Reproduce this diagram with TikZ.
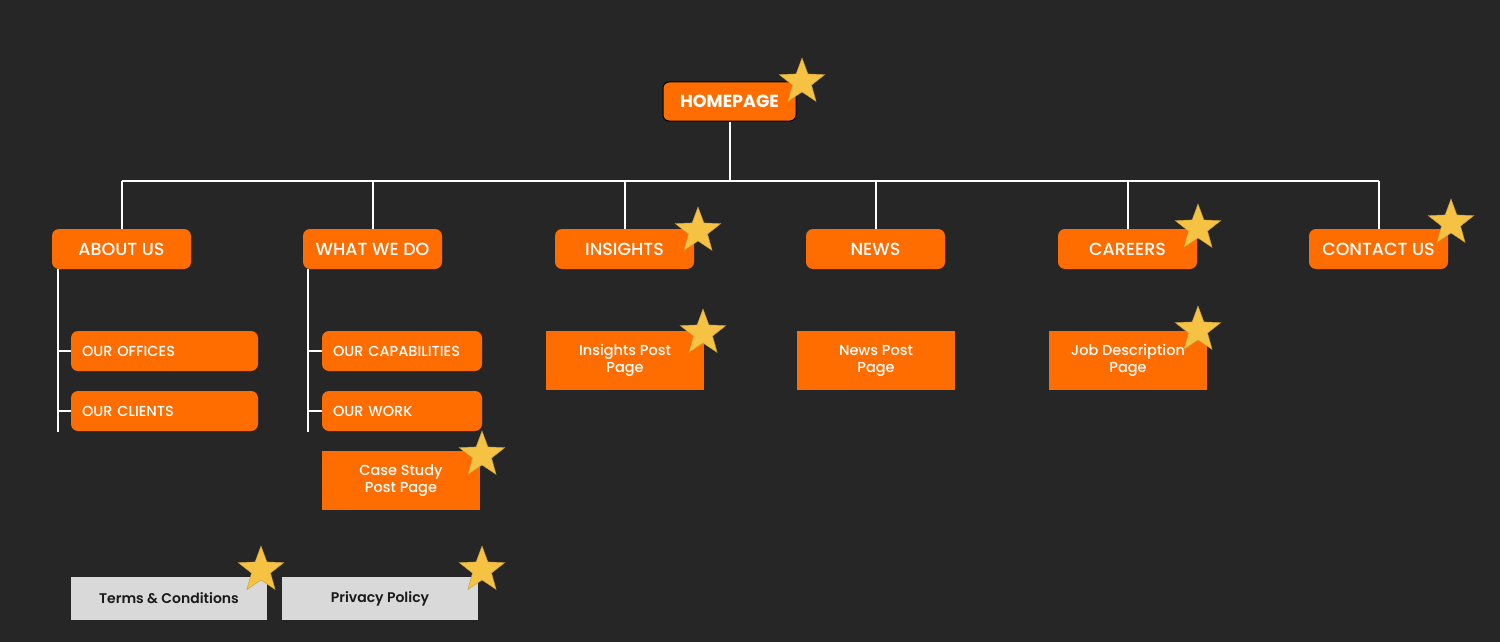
\documentclass[tikz,border=0pt]{standalone}
\usepackage{fontspec}
\setmainfont{Poppins}
\newfontfamily\medfont{Poppins Medium}
\newfontfamily\semifont{Poppins SemiBold}
\usetikzlibrary{shapes.geometric,positioning,calc}
\definecolor{bgcolor}{HTML}{262626}
\definecolor{pagecolor}{HTML}{FF6D00}
\definecolor{starcolor}{HTML}{F6C244}
\definecolor{legalcolor}{HTML}{D9D9D9}

\begin{document}
\begin{tikzpicture}[
    x=1pt, y=-1pt,
    homebox/.style={rectangle, rounded corners=6pt, draw=black, line width=1pt, fill=pagecolor, minimum width=133pt, minimum height=39pt, text=white, font=\fontsize{17.5}{20}\selectfont\bfseries},
    sectionbox/.style={rectangle, rounded corners=7pt, fill=pagecolor, minimum width=139pt, minimum height=40pt, text=white, font=\fontsize{17.5}{20}\selectfont\medfont},
    subbox/.style={rectangle, rounded corners=7pt, fill=pagecolor, minimum height=40pt, inner xsep=11pt, align=left, text=white, font=\fontsize{14.5}{17}\selectfont\medfont},
    postbox/.style={rectangle, fill=pagecolor, minimum width=158pt, minimum height=59pt, align=center, text=white, font=\fontsize{14.5}{17}\selectfont\medfont},
    legalbox/.style={rectangle, fill=legalcolor, minimum width=196pt, minimum height=43pt, text=black!90, font=\fontsize{14}{17}\selectfont\semifont},
    starmark/.style={star, star points=5, star point ratio=2.4, fill=starcolor, draw=starcolor!80!black, line width=0.4pt, minimum size=48pt, inner sep=0pt},
    edge/.style={white, line width=2pt},
    rail/.style={white, line width=1.5pt}
]
    \useasboundingbox (0,0) rectangle (1500,642);
    \fill[bgcolor] (0,0) rectangle (1500,642);

    % Homepage
    \node[homebox] (home) at (729.5,101.5) {HOMEPAGE};
    \coordinate (bus) at (730,181);

    % Sections
    \node[sectionbox] (about) at (121.5,249) {ABOUT US};
    \node[sectionbox] (whatwedo) at (372.5,249) {WHAT WE DO};
    \node[sectionbox] (insights) at (624.5,249) {INSIGHTS};
    \node[sectionbox] (news) at (875.5,249) {NEWS};
    \node[sectionbox] (careers) at (1127.5,249) {CAREERS};
    \node[sectionbox] (contact) at (1378.5,249) {CONTACT US};

    % About us pages
    \node[subbox, text width=165pt] (offices) at (164.5,351) {OUR OFFICES};
    \node[subbox, text width=165pt] (clients) at (164.5,411) {OUR CLIENTS};
    \coordinate (aboutrail) at (58,432);

    % What we do pages
    \node[subbox, text width=138pt] (capab) at (402,351) {OUR CAPABILITIES};
    \node[subbox, text width=138pt] (work) at (402,411) {OUR WORK};
    \node[postbox] (casestudy) at (401,480.5) {Case Study\\Post Page};
    \coordinate (whatrail) at (308,432);

    % Post pages
    \node[postbox] (inspost) at (625,360.5) {Insights Post\\Page};
    \node[postbox] (newspost) at (876,360.5) {News Post\\Page};
    \node[postbox] (jobdesc) at (1128,360.5) {Job Description\\Page};

    % Legal pages
    \node[legalbox] (terms) at (169,598.5) {Terms \& Conditions};
    \node[legalbox] (privacy) at (380,598.5) {Privacy Policy};

    % Tree lines
    \draw[edge] (home.south) -- (home.south |- bus);
    \draw[edge] (about.north |- bus) -- (contact.north |- bus);
    \foreach \n in {about,whatwedo,insights,news,careers,contact}
        \draw[edge] (\n.north) -- (\n.north |- bus);

    \draw[rail] (aboutrail |- about.south) -- (aboutrail);
    \draw[rail] (offices.west) -- (offices.west -| aboutrail);
    \draw[rail] (clients.west) -- (clients.west -| aboutrail);
    \draw[rail] (whatrail |- whatwedo.south) -- (whatrail);
    \draw[rail] (capab.west) -- (capab.west -| whatrail);
    \draw[rail] (work.west) -- (work.west -| whatrail);

    % Stars
    \node[starmark] (s-home) at (802,82) {};
    \node[starmark] (s-insights) at (698,231) {};
    \node[starmark] (s-careers) at (1198,228) {};
    \node[starmark] (s-contact) at (1451,223) {};
    \node[starmark] (s-inspost) at (703,333) {};
    \node[starmark] (s-jobdesc) at (1198,330) {};
    \node[starmark] (s-casestudy) at (482,455) {};
    \node[starmark] (s-terms) at (261,570) {};
    \node[starmark] (s-privacy) at (482,570) {};
\end{tikzpicture}
\end{document}
